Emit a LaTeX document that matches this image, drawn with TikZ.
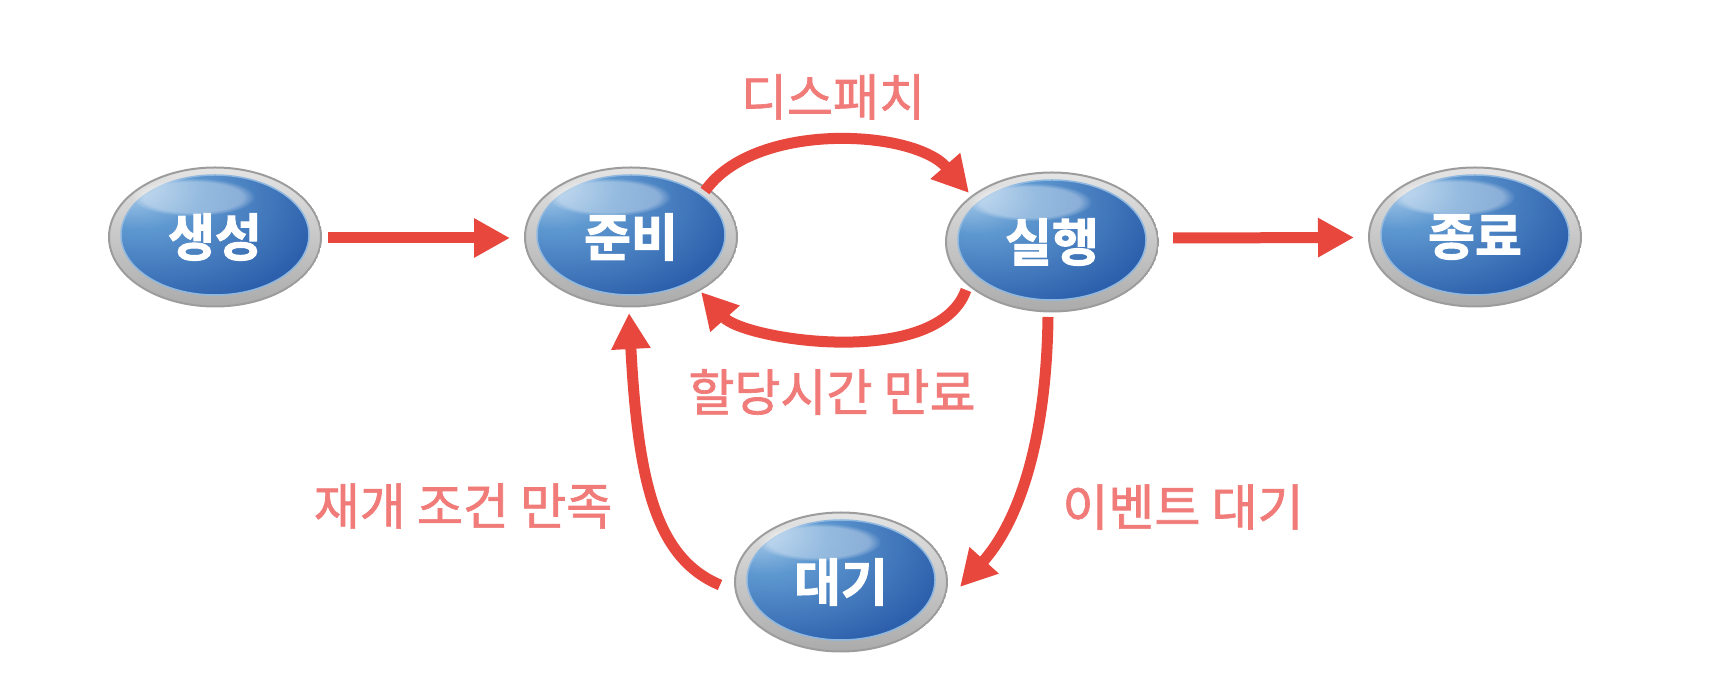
\documentclass[tikz,border=0pt]{standalone}
\usepackage{fontspec}
\usetikzlibrary{shapes.geometric,arrows.meta,fadings}
\newfontfamily\krlabel[FakeBold=1.4]{Noto Sans CJK KR}
\newfontfamily\krnode[FakeBold=2]{Noto Sans CJK KR Bold}
\definecolor{arrowred}{HTML}{E8473D}
\definecolor{labelpink}{HTML}{F07B78}
\definecolor{blA}{HTML}{B4D3EE}
\definecolor{blB}{HTML}{5E98D0}
\definecolor{blC}{HTML}{2D60AC}
\definecolor{blD}{HTML}{1C4892}
\definecolor{ringtop}{HTML}{E4E4E4}
\definecolor{ringbot}{HTML}{ABABAB}
\definecolor{ringedge}{HTML}{9C9C9C}
\definecolor{rimblue}{HTML}{8FB8E0}
\pgfdeclareradialshading{bluegrad}{\pgfpoint{-24bp}{22bp}}{%
  color(0bp)=(blA); color(16bp)=(blB); color(42bp)=(blC); color(68bp)=(blD); color(100bp)=(blD)}
\begin{document}
\begin{tikzpicture}[x=1pt,y=1pt,
  statebox/.style={ellipse, minimum width=214pt, minimum height=141pt, inner sep=0pt,
    text=white, font=\krnode\fontsize{51}{58}\selectfont,
    path picture={
      \coordinate (pc) at (path picture bounding box.center);
      \shade[top color=ringtop, bottom color=ringbot, draw=ringedge, line width=2pt] (pc) ellipse [x radius=106pt, y radius=69.5pt];
      \shade[shading=bluegrad, draw=rimblue, line width=1.5pt] ([yshift=2pt]pc) ellipse [x radius=94pt, y radius=60pt];
      \fill[white, opacity=0.35, path fading=circle with fuzzy edge 20 percent] ([shift={(-22pt,40pt)}]pc) ellipse [x radius=62pt, y radius=19pt];
    }},
  conn/.style={draw=arrowred, line width=11pt, -{Triangle[length=36pt,width=37pt]}},
  lbl/.style={text=labelpink, font=\krlabel\fontsize{50}{58}\selectfont, inner sep=0pt}
]
\fill[white] (0,0) rectangle (1710,690);
\useasboundingbox (0,0) rectangle (1710,690);

\node[statebox] (sc) at (215,453) {생성};
\node[statebox] (jb) at (631,453) {준비};
\node[statebox] (sh) at (1052,448) {실행};
\node[statebox] (jr) at (1475,453) {종료};
\node[statebox] (dg) at (841,108) {대기};

\draw[conn] ([shift={(113,-1)}]sc.center) -- ([shift={(-121,-1)}]jb.center);
\draw[conn] ([shift={(121,4)}]sh.center) -- ([shift={(-121,-0.5)}]jr.center);
\draw[conn] ([shift={(74,46)}]jb.center) .. controls +(49,70) and +(-56,64) .. ([shift={(-83,49)}]sh.center);
\draw[conn] ([shift={(-86,-48)}]sh.center) .. controls +(-29,-80) and +(43,-48) .. ([shift={(70,-55)}]jb.center);
\draw[conn] ([shift={(-4,-75)}]sh.center) .. controls +(-2,-150) and +(47,52) .. ([shift={(119,-5)}]dg.center);
\draw[conn] ([shift={(-121,-3)}]dg.center) .. controls +(-64,27) and +(9,-170) .. ([shift={(-2,-76)}]jb.center);

\node[lbl] (l1) at (833,593) {디스패치};
\node[lbl] (l2) at (832,298) {할당시간 만료};
\node[lbl] (l3) at (463,184) {재개 조건 만족};
\node[lbl] (l4) at (1183,183) {이벤트 대기};
\end{tikzpicture}
\end{document}
